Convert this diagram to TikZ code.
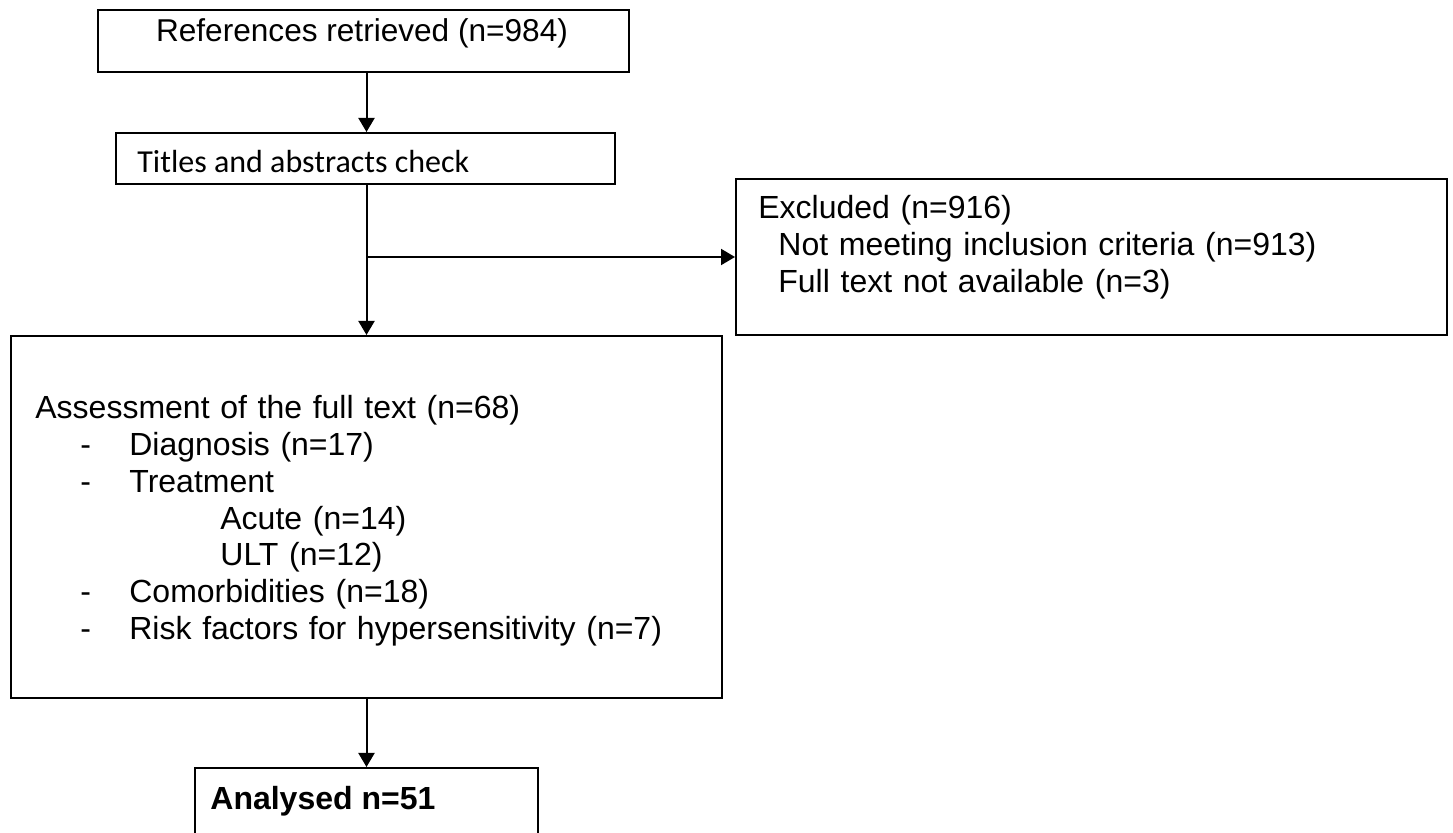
\documentclass[tikz,border=0pt]{standalone}
\usepackage{fontspec}
\setmainfont{Liberation Sans}
\newfontfamily\calibrifont{Carlito}
\usetikzlibrary{arrows.meta}
\begin{document}
\begin{tikzpicture}[x=0.5pt,y=-0.5pt,
  box/.style={draw, line width=1pt, rectangle, inner sep=0pt, anchor=north west},
  txt/.style={inner sep=0pt, anchor=base west, font=\fontsize{16}{18.35}\selectfont},
  multi/.style={txt, text width=330pt, align=left},
  arr/.style={line width=1pt, -{Triangle[length=7pt,width=8pt]}}
]
\useasboundingbox (0,0) rectangle (1453,833);
\fill[white] (0,0) rectangle (1453,833);
% boxes
\node[box, minimum width=265.5pt, minimum height=31pt] (b1) at (97,9) {};
\node[box, minimum width=249.5pt, minimum height=25.5pt] (b2) at (115,132) {};
\node[box, minimum width=355.5pt, minimum height=78pt] (ex) at (735,178) {};
\node[box, minimum width=355.5pt, minimum height=181pt] (b3) at (10,335) {};
\node[box, minimum width=171.5pt, minimum height=40pt] (an) at (194,767) {};
% texts
\node[txt, anchor=base, font=\fontsize{15.8}{18.35}\selectfont] (t1) at (362,42) {References retrieved (n=984)};
\node[txt, font=\calibrifont\fontsize{16}{19}\selectfont] (t2) at (137,173) {Titles and abstracts check};
\node[multi] (tex) at (758,219) {Excluded (n=916)\\
\hspace*{10pt}Not meeting inclusion criteria (n=913)\\
\hspace*{10pt}Full text not available (n=3)};
\node[multi] (t3) at (35,419) {Assessment of the full text (n=68)\\
\hspace*{22.5pt}\makebox[24.5pt][l]{-}Diagnosis (n=17)\\
\hspace*{22.5pt}\makebox[24.5pt][l]{-}Treatment\\
\hspace*{92.5pt}Acute (n=14)\\
\hspace*{92.5pt}ULT (n=12)\\
\hspace*{22.5pt}\makebox[24.5pt][l]{-}Comorbidities (n=18)\\
\hspace*{22.5pt}\makebox[24.5pt][l]{-}Risk factors for hypersensitivity (n=7)};
\node[txt, font=\fontsize{16}{18.35}\selectfont\bfseries] (t4) at (210,810) {Analysed n=51};
% connectors
\coordinate (split) at (b3.north |- ex.west);
\draw[arr] (b3.north |- b1.south) -- (b3.north |- b2.north);
\draw[arr] (b3.north |- b2.south) -- (b3.north);
\draw[arr] (split) -- (ex.west);
\draw[arr] (b3.south) -- (b3.south |- an.north);
\end{tikzpicture}
\end{document}
